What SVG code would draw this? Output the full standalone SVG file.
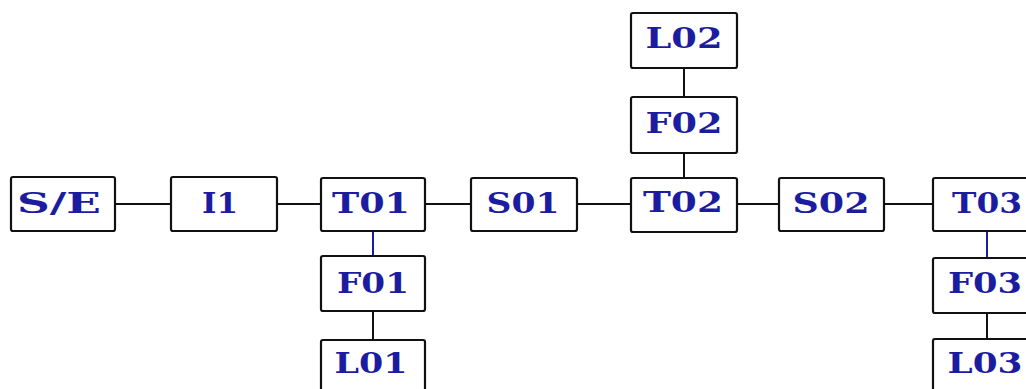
<svg xmlns="http://www.w3.org/2000/svg" width="1026" height="389" viewBox="0 0 1026 389">
<style>
.box{fill:#fff;stroke:#111;stroke-width:2.2}
.lbl{font-family:"DejaVu Serif","Liberation Serif",serif;font-weight:bold;font-size:27px;fill:#1c1ca0;text-anchor:middle}
.c{stroke:#111;stroke-width:2;fill:none}
.cb{stroke:#1c1ca0;stroke-width:2;fill:none}
</style>
<rect width="1026" height="389" fill="#fff"/>
<g id="connectors">
<line class="c" x1="115" y1="204" x2="171" y2="204"/>
<line class="c" x1="277" y1="204" x2="321" y2="204"/>
<line class="c" x1="425" y1="204" x2="471" y2="204"/>
<line class="c" x1="577" y1="204" x2="631" y2="204"/>
<line class="c" x1="737" y1="204" x2="779" y2="204"/>
<line class="c" x1="884" y1="204" x2="933" y2="204"/>
<line class="cb" x1="373" y1="231" x2="373" y2="256"/>
<line class="c" x1="373" y1="311" x2="373" y2="340"/>
<line class="c" x1="684" y1="68" x2="684" y2="97"/>
<line class="c" x1="684" y1="153" x2="684" y2="178"/>
<line class="cb" x1="987" y1="231" x2="987" y2="258"/>
<line class="c" x1="987" y1="313" x2="987" y2="339"/>
</g>
<g id="SE"><rect class="box" x="11" y="177" width="104" height="54" rx="2"/><text class="lbl" x="59" y="213" textLength="84" lengthAdjust="spacingAndGlyphs">S/E</text></g>
<g id="I1"><rect class="box" x="171" y="177" width="106" height="54" rx="2"/><text class="lbl" x="220" y="213" textLength="36" lengthAdjust="spacingAndGlyphs">I1</text></g>
<g id="T01"><rect class="box" x="321" y="178" width="104" height="53" rx="2"/><text class="lbl" x="371" y="213" textLength="78" lengthAdjust="spacingAndGlyphs">T01</text></g>
<g id="S01"><rect class="box" x="471" y="178" width="106" height="53" rx="2"/><text class="lbl" x="523" y="213" textLength="73" lengthAdjust="spacingAndGlyphs">S01</text></g>
<g id="T02"><rect class="box" x="631" y="178" width="106" height="54" rx="2"/><text class="lbl" x="683" y="212" textLength="80" lengthAdjust="spacingAndGlyphs">T02</text></g>
<g id="F02"><rect class="box" x="631" y="97" width="106" height="56" rx="2"/><text class="lbl" x="684" y="133" textLength="77" lengthAdjust="spacingAndGlyphs">F02</text></g>
<g id="L02"><rect class="box" x="631" y="13" width="106" height="55" rx="2"/><text class="lbl" x="684" y="48" textLength="77" lengthAdjust="spacingAndGlyphs">L02</text></g>
<g id="S02"><rect class="box" x="779" y="178" width="105" height="53" rx="2"/><text class="lbl" x="831" y="213" textLength="77" lengthAdjust="spacingAndGlyphs">S02</text></g>
<g id="T03"><rect class="box" x="933" y="178" width="110" height="53" rx="2"/><text class="lbl" x="987" y="213" textLength="70" lengthAdjust="spacingAndGlyphs">T03</text></g>
<g id="F03"><rect class="box" x="933" y="258" width="110" height="55" rx="2"/><text class="lbl" x="985" y="293" textLength="74" lengthAdjust="spacingAndGlyphs">F03</text></g>
<g id="L03"><rect class="box" x="933" y="339" width="110" height="60" rx="2"/><text class="lbl" x="985" y="373" textLength="75" lengthAdjust="spacingAndGlyphs">L03</text></g>
<g id="F01"><rect class="box" x="321" y="256" width="104" height="55" rx="2"/><text class="lbl" x="373" y="293" textLength="72" lengthAdjust="spacingAndGlyphs">F01</text></g>
<g id="L01"><rect class="box" x="321" y="340" width="104" height="60" rx="2"/><text class="lbl" x="371" y="373" textLength="73" lengthAdjust="spacingAndGlyphs">L01</text></g>
</svg>
